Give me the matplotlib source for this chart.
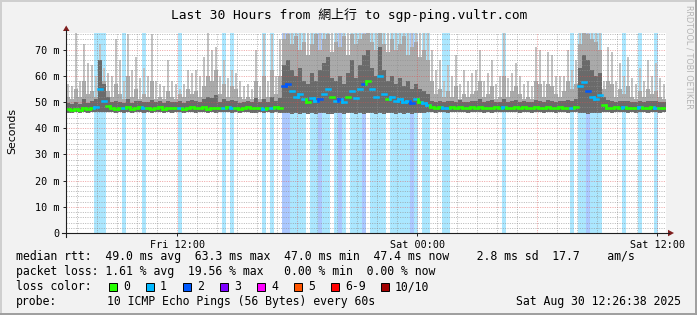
import matplotlib
matplotlib.use('Agg')
import matplotlib.pyplot as plt
import matplotlib.dates as mdates
import numpy as np
import pandas as pd
from matplotlib.collections import LineCollection
from matplotlib.patches import Rectangle, Polygon
from matplotlib.lines import Line2D

# ---------------- data ----------------
START = '2025-08-29 06:26:38'
END = '2025-08-30 12:26:38'
BIN_MIN = 12

median_ms = [
    47.2, 47.0, 47.4, 47.1, 47.5, 47.3, 47.6, 48.2, 55.0, 50.5,
    48.5, 47.6, 47.3, 47.8, 47.5, 47.9, 47.4, 47.7, 48.0, 47.5,
    47.8, 47.3, 47.6, 47.9, 47.4, 47.7, 47.5, 47.8, 47.6, 47.3,
    47.7, 48.0, 47.5, 47.6, 47.9, 47.4, 47.7, 47.5, 47.8, 47.6,
    48.1, 47.5, 47.8, 47.4, 47.7, 47.9, 47.6, 47.5, 47.8, 47.4,
    47.7, 47.6, 48.0, 47.6, 56.0, 57.0, 54.0, 52.0, 53.0, 51.0,
    50.0, 51.5, 50.5, 51.0, 53.0, 55.0, 52.0, 50.5, 51.0, 50.0,
    52.0, 54.0, 51.5, 55.0, 57.0, 58.0, 55.0, 52.0, 60.0, 53.0,
    51.0, 52.0, 50.5, 51.0, 50.0, 50.5, 49.5, 51.0, 50.0, 49.5,
    49.0, 47.9, 47.6, 48.0, 47.7, 47.5, 47.9, 47.6, 48.1, 47.8,
    47.5, 47.9, 47.7, 48.2, 47.6, 47.8, 47.5, 48.0, 47.7, 47.9,
    47.6, 47.8, 48.1, 47.5, 47.9, 47.7, 47.6, 48.0, 47.8, 47.5,
    47.9, 47.7, 47.6, 48.0, 47.8, 47.5, 47.7, 48.0, 56.0, 57.5,
    54.0, 52.0, 51.0, 52.5, 49.0, 47.8, 47.6, 47.9, 47.7, 48.0,
    47.6, 47.8, 47.5, 47.9, 47.7, 47.6, 48.0, 47.8, 47.5, 47.7,
]

loss = [
    0, 0, 0, 0, 0, 0, 0, 1, 1, 1,
    0, 0, 0, 0, 1, 0, 0, 0, 0, 1,
    0, 0, 0, 0, 0, 0, 0, 0, 1, 0,
    0, 0, 0, 0, 0, 0, 0, 0, 0, 1,
    0, 1, 0, 0, 0, 0, 0, 0, 0, 1,
    0, 1, 0, 0, 2, 2, 1, 1, 1, 1,
    0, 1, 1, 2, 1, 1, 0, 1, 2, 1,
    0, 1, 1, 1, 2, 0, 1, 1, 1, 1,
    0, 1, 1, 1, 1, 1, 2, 1, 0, 1,
    1, 0, 0, 0, 1, 1, 0, 0, 0, 0,
    0, 0, 0, 0, 0, 0, 0, 0, 0, 1,
    0, 0, 0, 0, 0, 0, 0, 0, 0, 0,
    0, 0, 0, 0, 0, 0, 1, 0, 1, 1,
    2, 1, 1, 1, 0, 0, 0, 0, 0, 1,
    0, 0, 0, 1, 0, 0, 0, 1, 0, 0,
]

rtt_max = [
    57, 56, 77, 58, 72, 65, 64, 60, 72, 63,
    61, 60, 74, 66, 58, 76, 62, 67, 59, 63,
    60, 76, 58, 57, 56, 66, 58, 57, 55, 57,
    62, 61, 62, 60, 67, 77, 70, 71, 60, 66,
    59, 62, 61, 58, 56, 57, 55, 70, 56, 76,
    58, 76, 60, 74, 78, 80, 80, 80, 80, 80,
    80, 80, 80, 80, 80, 80, 80, 80, 80, 80,
    80, 80, 80, 80, 80, 80, 80, 80, 80, 80,
    80, 80, 80, 80, 80, 80, 80, 80, 80, 80,
    78, 70, 62, 66, 58, 64, 60, 68, 57, 62,
    58, 61, 62, 70, 58, 61, 66, 57, 60, 77,
    59, 61, 65, 60, 57, 58, 56, 71, 70, 58,
    69, 68, 60, 60, 60, 70, 62, 66, 80, 80,
    80, 80, 80, 80, 58, 71, 69, 58, 65, 60,
    67, 59, 57, 63, 58, 66, 60, 65, 59, 57,
]

rtt_p90 = [
    52, 51, 55, 52, 58, 53, 54, 52, 66, 58,
    54, 52, 57, 53, 51, 60, 52, 55, 51, 53,
    52, 58, 51, 52, 51, 54, 52, 51, 53, 52,
    55, 53, 54, 52, 56, 60, 58, 62, 53, 57,
    52, 56, 55, 52, 51, 52, 51, 58, 51, 60,
    52, 62, 53, 60, 74, 76, 72, 75, 70, 73,
    68, 72, 76, 70, 74, 76, 69, 73, 71, 75,
    68, 76, 72, 74, 76, 77, 73, 70, 77, 72,
    69, 74, 70, 72, 75, 68, 71, 73, 67, 70,
    66, 58, 53, 55, 52, 54, 52, 56, 51, 53,
    52, 53, 54, 58, 52, 53, 56, 51, 52, 60,
    52, 54, 56, 53, 51, 52, 51, 58, 57, 52,
    57, 56, 53, 52, 54, 58, 55, 57, 72, 77,
    76, 74, 73, 70, 55, 58, 57, 52, 55, 53,
    56, 52, 51, 54, 52, 55, 53, 54, 52, 51,
]

rtt_p70 = [
    49.5, 49.2, 50.0, 49.4, 51.0, 49.6, 50.2, 51.0, 66.0, 57.0,
    52.0, 49.8, 50.5, 50.0, 49.7, 51.0, 49.6, 50.3, 50.2, 49.8,
    50.1, 50.8, 49.8, 50.2, 49.6, 50.4, 49.8, 50.0, 50.2, 49.6,
    50.4, 50.6, 50.2, 49.9, 51.0, 52.0, 51.5, 52.5, 50.1, 51.0,
    50.3, 50.8, 50.4, 49.7, 50.0, 50.2, 49.9, 51.5, 50.1, 51.0,
    50.0, 52.0, 50.4, 51.5, 64.0, 66.0, 62.0, 60.0, 63.0, 58.0,
    57.0, 61.0, 58.0, 62.0, 65.0, 67.0, 59.0, 58.0, 60.0, 57.0,
    61.0, 66.0, 59.0, 64.0, 68.0, 70.0, 63.0, 60.0, 71.0, 62.0,
    58.0, 60.0, 57.0, 59.0, 56.0, 58.0, 55.0, 57.0, 55.0, 54.0,
    53.0, 50.5, 49.9, 50.4, 50.0, 50.2, 50.3, 49.8, 50.6, 50.1,
    49.8, 50.4, 50.2, 51.0, 49.9, 50.3, 50.8, 50.0, 50.1, 51.0,
    49.9, 50.2, 50.6, 49.8, 50.2, 50.0, 49.9, 50.8, 50.5, 49.8,
    50.6, 50.4, 49.9, 50.3, 50.5, 50.8, 50.2, 51.0, 63.0, 68.0,
    66.0, 62.0, 60.0, 61.0, 52.0, 50.6, 50.2, 50.1, 50.3, 50.4,
    50.3, 50.1, 49.9, 50.5, 50.0, 50.3, 50.4, 50.2, 49.9, 50.1,
]

rtt_min = [
    45.9, 45.7, 46.0, 45.8, 46.1, 45.9, 46.0, 46.2, 46.0, 46.3,
    46.1, 46.0, 45.8, 46.2, 45.9, 46.1, 45.8, 46.0, 46.3, 45.9,
    46.1, 45.8, 46.0, 46.2, 45.9, 46.0, 45.8, 46.2, 46.0, 45.7,
    46.0, 46.3, 45.9, 46.0, 46.2, 45.8, 46.1, 45.9, 46.2, 46.0,
    46.3, 45.9, 46.1, 45.8, 46.0, 46.2, 45.9, 45.8, 46.1, 45.8,
    46.0, 45.9, 46.2, 45.9, 45.6, 45.8, 45.5, 45.7, 45.4, 45.6,
    45.5, 45.7, 45.4, 45.6, 45.8, 45.5, 45.3, 45.6, 45.7, 45.4,
    45.6, 45.8, 45.5, 45.7, 45.4, 45.9, 45.6, 45.5, 45.8, 45.4,
    45.6, 45.7, 45.5, 45.8, 45.4, 45.6, 45.5, 45.7, 45.6, 45.8,
    46.0, 46.1, 45.9, 46.2, 46.0, 45.8, 46.1, 46.0, 46.3, 46.1,
    45.9, 46.2, 46.0, 46.3, 45.9, 46.1, 45.8, 46.2, 46.0, 46.1,
    46.0, 46.2, 46.3, 45.9, 46.1, 46.0, 45.9, 46.2, 46.1, 45.8,
    46.2, 46.0, 45.9, 46.3, 46.1, 45.9, 46.0, 46.2, 45.6, 45.7,
    45.5, 45.8, 45.6, 45.7, 46.0, 46.1, 45.9, 46.2, 46.0, 46.1,
    45.9, 46.1, 45.8, 46.2, 46.0, 45.9, 46.1, 46.3, 45.8, 46.0,
]

y_ticks = [0, 10, 20, 30, 40, 50, 60, 70]
y_tick_labels = ['0', '10 m', '20 m', '30 m', '40 m', '50 m', '60 m', '70 m']
loss_labels = ['0', '1', '2', '3', '4', '5', '6-9', '10/10']
loss_colors = ['#26ff00', '#00b8ff', '#0059ff', '#7e00ff', '#ff00ff',
               '#ff5500', '#ff0000', '#a10000']

title = 'Last 30 Hours from 網上行 to sgp-ping.vultr.com'
stats_line1 = 'median rtt:  49.0 ms avg  63.3 ms max  47.0 ms min  47.4 ms now    2.8 ms sd  17.7    am/s'
stats_line2 = 'packet loss: 1.61 % avg  19.56 % max   0.00 % min  0.00 % now'
probe_text = '10 ICMP Echo Pings (56 Bytes) every 60s'
stamp_text = 'Sat Aug 30 12:26:38 2025'

# ---------------- figure ----------------
W, H = 697, 315
BG = '#f2f2f2'
fig = plt.figure(figsize=(W / 100, H / 100), dpi=100, facecolor=BG)

L, T, PW, PH = 66, 33, 600, 200
ax = fig.add_axes([L / W, 1 - (T + PH) / H, PW / W, PH / H])
ax.set_facecolor('white')
YTOP = 76.3

t0 = pd.Timestamp(START)
t1 = pd.Timestamp(END)
times = pd.date_range(t0, periods=len(median_ms), freq=f'{BIN_MIN}min')
x = mdates.date2num(times.to_pydatetime())
bw = BIN_MIN / 1440.0

med = np.array(median_ms)
lossa = np.array(loss)
lo = np.array(rtt_min)

# loss background
for k in range(1, len(loss_colors)):
    m = lossa == k
    if m.any():
        ax.bar(x[m], np.full(m.sum(), 200.0), bottom=0, width=bw, align='edge',
               color=loss_colors[k], alpha=0.33, lw=0, zorder=1)

# smoke (outer spikes thin, inner layers full width)
ax.bar(x + bw * 0.2, np.array(rtt_max) - lo, bottom=lo, width=bw * 0.55,
       align='edge', color='#c2c2c2', lw=0, zorder=2)
ax.bar(x, np.array(rtt_p90) - lo, bottom=lo, width=bw, align='edge',
       color='#aaaaaa', lw=0, zorder=2)
ax.bar(x, np.array(rtt_p70) - lo, bottom=lo, width=bw, align='edge',
       color='#6a6a6a', lw=0, zorder=2)

# grid
GRID = (0.56, 0.56, 0.56, 0.75)
MGRID = (0.87, 0.31, 0.31, 0.6)
for v in np.arange(2, YTOP, 2):
    if v % 10 == 0:
        continue
    ax.axhline(v, color=GRID, lw=0.6, ls=(0, (1.2, 1.6)), zorder=3)
for v in y_ticks[1:]:
    ax.axhline(v, color=MGRID, lw=0.6, ls=(0, (1.2, 1.6)), zorder=3)
hours = pd.date_range(t0.ceil('h'), t1, freq='h')
for h in hours:
    xv = mdates.date2num(h.to_pydatetime())
    if h.hour % 6 == 0:
        ax.axvline(xv, color=MGRID, lw=0.6, ls=(0, (1.2, 1.6)), zorder=3)
    else:
        ax.axvline(xv, color=GRID, lw=0.6, ls=(0, (1.2, 1.6)), zorder=3)

# median marks coloured by loss
segs, cols = [], []
for i in range(len(med)):
    k = lossa[i]
    c = loss_colors[7] if k >= 10 else loss_colors[min(k, 6)]
    segs.append([(x[i], med[i]), (x[i] + bw, med[i])])
    cols.append(c)
    if i > 0 and abs(med[i] - med[i - 1]) < 1.5:
        segs.append([(x[i], med[i - 1]), (x[i], med[i])])
        cols.append(c)
ax.add_collection(LineCollection(segs, colors=cols, linewidths=1.8, zorder=4,
                                 capstyle='projecting'))

ax.set_xlim(mdates.date2num(t0.to_pydatetime()), mdates.date2num(t1.to_pydatetime()))
ax.set_ylim(0, YTOP)
for s in ax.spines.values():
    s.set_visible(False)

mono = ['DejaVu Sans Mono', 'Noto Sans CJK TC']
ax.set_yticks(y_ticks)
ax.set_yticklabels(y_tick_labels, family=mono, fontsize=7.3)
xt = [pd.Timestamp('2025-08-29 12:00'), pd.Timestamp('2025-08-30 00:00'),
      pd.Timestamp('2025-08-30 12:00')]
ax.set_xticks([mdates.date2num(t.to_pydatetime()) for t in xt])
ax.set_xticklabels([t.strftime('%a %H:%M') for t in xt], family=mono, fontsize=7.3)
ax.tick_params(axis='both', length=2.5, width=0.7, color='#1f1f1f', pad=2.5,
               labelcolor='black')

# axes with arrows
AXC = '#1f1f1f'
ARC = (0.5, 0.12, 0.12)
def fx(px):
    return px / W
def fy(py):
    return 1 - py / H
fig.add_artist(Line2D([fx(66), fx(66)], [fy(237), fy(30)], color=AXC, lw=0.8))
fig.add_artist(Line2D([fx(62), fx(669)], [fy(233), fy(233)], color=AXC, lw=0.8))
fig.add_artist(Polygon([(fx(63), fy(31)), (fx(69.5), fy(31)), (fx(66.2), fy(25.5))],
                       closed=True, transform=fig.transFigure, color=ARC, lw=0))
fig.add_artist(Polygon([(fx(668), fy(229.8)), (fx(668), fy(236.3)), (fx(674), fy(233))],
                       closed=True, transform=fig.transFigure, color=ARC, lw=0))

# texts
fig.text(fx(349), fy(15), title, family=mono, fontsize=9.3, ha='center', va='center')
fig.text(fx(12), fy(131), 'Seconds', family=['DejaVu Sans'], fontsize=7.8,
         rotation=90, ha='center', va='center')
fig.text(fx(689), fy(5), 'RRDTOOL / TOBI OETIKER', family=['DejaVu Sans'],
         fontsize=5.9, rotation=270, ha='center', va='top', color='#b4b4b4')

LEG = 8.3
rows = [256.5, 271.5, 286.5, 301.5]
fig.text(fx(16), fy(rows[0]), stats_line1, family=mono, fontsize=LEG, va='center')
fig.text(fx(16), fy(rows[1]), stats_line2, family=mono, fontsize=LEG, va='center')
fig.text(fx(16), fy(rows[2]), 'loss color:', family=mono, fontsize=LEG, va='center')
box_x = [109, 146, 183, 220, 257, 294, 331, 381]
for bx, col, lab in zip(box_x, loss_colors, loss_labels):
    fig.add_artist(Rectangle((fx(bx), fy(rows[2] + 4.5)), 8 / W, 8 / H,
                             transform=fig.transFigure, facecolor=col,
                             edgecolor='black', lw=0.7))
    fig.text(fx(bx + 14), fy(rows[2]), lab, family=mono, fontsize=LEG, va='center')
fig.text(fx(16), fy(rows[3]), 'probe:', family=mono, fontsize=LEG, va='center')
fig.text(fx(107), fy(rows[3]), probe_text, family=mono, fontsize=LEG, va='center')
fig.text(fx(681), fy(rows[3]), stamp_text, family=mono, fontsize=LEG, va='center',
         ha='right')

# 3D frame
SHA = '#cfcfcf'
SHB = '#9e9e9e'
fig.add_artist(Line2D([fx(0), fx(697)], [fy(0.5), fy(0.5)], color=SHA, lw=1.4))
fig.add_artist(Line2D([fx(0.5), fx(0.5)], [fy(0), fy(315)], color=SHA, lw=1.4))
fig.add_artist(Line2D([fx(0), fx(697)], [fy(313.8), fy(313.8)], color=SHB, lw=1.4))
fig.add_artist(Line2D([fx(695.8), fx(695.8)], [fy(0), fy(315)], color=SHB, lw=1.4))

fig.savefig('out.png', dpi=100, facecolor=BG)
